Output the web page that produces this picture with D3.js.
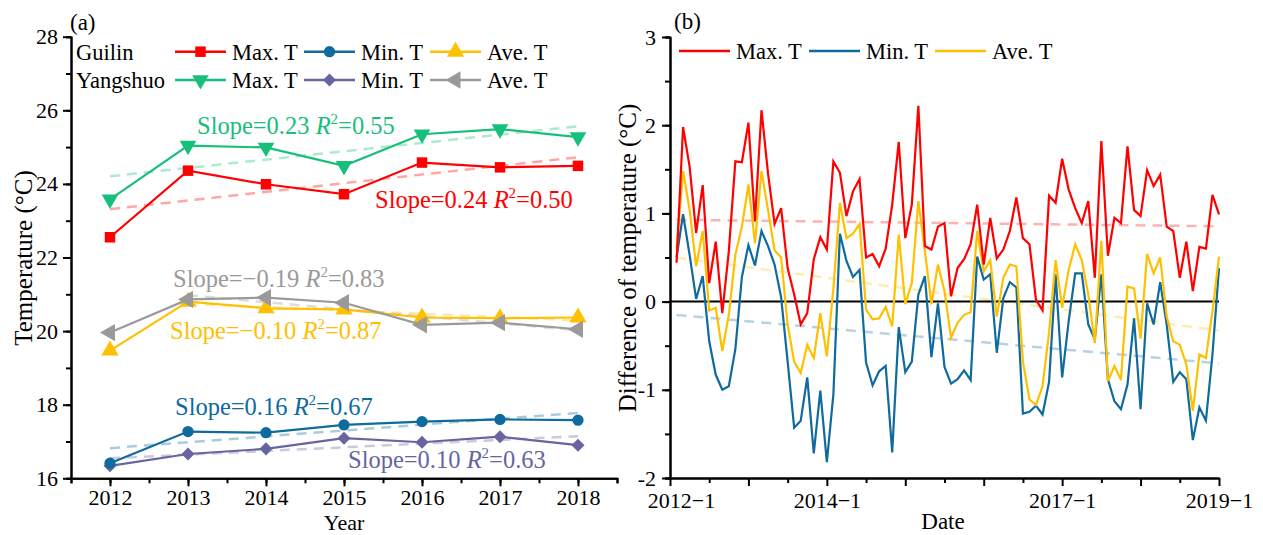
<!DOCTYPE html>
<html><head><meta charset="utf-8">
<script src="https://cdn.jsdelivr.net/npm/d3@7"></script>
<style>
html,body{margin:0;padding:0;background:#fff;}
svg text{font-family:"Liberation Serif","Times New Roman",serif;}
</style></head>
<body>
<svg id="chart" width="1263" height="535"></svg>
<script>
// ---------- Panel (a) data ----------
const years = [2012, 2013, 2014, 2015, 2016, 2017, 2018];
const guilinMax = [22.55, 24.36, 23.99, 23.72, 24.58, 24.45, 24.49];
const guilinMin = [16.41, 17.27, 17.24, 17.45, 17.54, 17.60, 17.58];
const guilinAve = [19.47, 20.80, 20.62, 20.59, 20.37, 20.35, 20.37];
const yangMax = [23.58, 25.04, 24.99, 24.49, 25.35, 25.49, 25.27];
const yangMin = [16.34, 16.66, 16.80, 17.09, 16.98, 17.13, 16.90];
const yangAve = [19.96, 20.86, 20.91, 20.77, 20.17, 20.23, 20.05];
const yTicksA = [16, 18, 20, 22, 24, 26, 28];

// ---------- Panel (b) data (monthly difference, Guilin - Yangshuo) ----------
const maxT = [0.44,1.98,1.53,0.78,1.32,0.21,0.68,-0.13,0.57,1.59,1.58,2.03,0.91,2.17,1.45,0.88,1.06,0.38,0.08,-0.26,-0.13,0.48,0.73,0.59,1.59,1.46,0.97,1.25,
  1.39,0.50,0.54,0.40,0.60,1.10,1.81,0.72,1.10,2.22,0.63,0.59,0.85,0.89,0.06,0.38,0.48,0.65,1.10,0.42,0.95,0.49,0.59,0.80,1.18,0.72,0.65,0.02,
  -0.10,1.20,1.12,1.62,1.27,1.06,0.89,1.14,0.27,1.82,0.52,0.95,0.89,1.76,1.04,0.97,1.49,1.31,1.44,0.85,0.80,0.27,0.68,0.12,0.62,0.60,1.21,0.99];
const minT = [0.50,0.99,0.53,0.03,0.29,-0.45,-0.83,-1.00,-0.96,-0.54,0.28,0.64,0.41,0.80,0.63,0.42,0.05,-0.68,-1.43,-1.35,-0.86,-1.72,-1.01,-1.82,-1.05,0.77,0.46,0.28,
  0.36,-0.69,-0.95,-0.79,-0.73,-1.71,-0.29,-0.80,-0.68,0.08,0.29,-0.63,-0.02,-0.74,-0.93,-0.88,-0.78,-0.89,0.51,0.25,0.31,-0.58,0.04,0.22,0.16,-1.27,-1.25,-1.18,
  -1.28,-0.91,0.31,-0.86,-0.22,0.32,0.32,-0.26,-0.43,0.31,-0.88,-1.13,-1.22,-0.94,-0.19,-1.22,-0.02,-0.26,0.22,-0.26,-0.91,-0.80,-0.88,-1.57,-1.20,-1.35,-0.60,0.38];
const aveT = [0.60,1.48,1.04,0.40,0.80,-0.10,-0.07,-0.56,-0.15,0.53,0.85,1.33,0.66,1.48,1.04,0.58,0.50,-0.26,-0.68,-0.81,-0.49,-0.64,-0.13,-0.62,0.15,1.12,0.72,0.77,
  0.88,-0.09,-0.20,-0.19,-0.06,-0.28,0.76,-0.03,0.21,1.14,0.57,-0.03,0.42,0.12,-0.41,-0.24,-0.15,-0.12,0.80,0.34,0.47,-0.17,0.27,0.42,0.40,-0.68,-1.11,-1.17,
  -0.96,-0.35,0.47,-0.07,0.36,0.65,0.47,0.08,-0.47,0.69,-0.90,-0.73,-0.89,0.17,0.15,-0.42,0.54,0.32,0.50,-0.17,-0.45,-0.49,-0.71,-1.24,-0.60,-0.64,-0.11,0.51];
const dateTickLabels = {0: "2012\u22121", 24: "2014\u22121", 60: "2017\u22121", 84: "2019\u22121"};
const yTicksB = [-2, -1, 0, 1, 2, 3];

// ---------- colours ----------
const C = {red:"#ff0000", green:"#17c07a", blue:"#0f6a9e", yellow:"#ffc000", gray:"#9a9a9a", purple:"#67649f"};
const FONT = '"Liberation Serif","Times New Roman",serif';

const svg = d3.select("#chart");

function linfit(xs, ys) {
  const n = xs.length, mx = d3.mean(xs), my = d3.mean(ys);
  let sxy = 0, sxx = 0;
  for (let i = 0; i < n; i++) { sxy += (xs[i]-mx)*(ys[i]-my); sxx += (xs[i]-mx)*(xs[i]-mx); }
  const b = sxy/sxx; return {b, a: my - b*mx};
}

function styleAxis(g, fs) {
  g.select(".domain").attr("stroke", "#000").attr("stroke-width", 2);
  g.selectAll(".tick line").attr("stroke", "#000").attr("stroke-width", 2);
  g.selectAll(".tick text").attr("font-family", FONT).attr("font-size", fs).attr("fill", "#000");
}

// ================= Panel (a) =================
const xa = d3.scaleLinear().domain([2011.5, 2018.5]).range([71, 617]);
const ya = d3.scaleLinear().domain([16, 28]).range([478.3, 36.7]);

svg.append("g").attr("transform", "translate(0,478.3)")
  .call(d3.axisBottom(xa).tickValues(d3.range(2011.5, 2018.6, 0.5)).tickSize(5).tickFormat(""))
  .call(g => styleAxis(g, 22));
svg.append("g").attr("transform", "translate(0,478.3)")
  .call(d3.axisBottom(xa).tickValues(years).tickSize(8).tickSizeOuter(0).tickPadding(3).tickFormat(d3.format("d")))
  .call(g => styleAxis(g, 22));
svg.append("g").attr("transform", "translate(71,0)")
  .call(d3.axisLeft(ya).tickValues(d3.range(16, 28.1, 1)).tickSize(5).tickFormat(""))
  .call(g => styleAxis(g, 22));
svg.append("g").attr("transform", "translate(71,0)")
  .call(d3.axisLeft(ya).tickValues(yTicksA).tickSize(8).tickSizeOuter(0).tickPadding(5).tickFormat(d3.format("d")))
  .call(g => styleAxis(g, 22));

const seriesA = [
  {name:"Guilin Max", vals:guilinMax, color:C.red, sym:d3.symbolSquare, size:110, rot:0, fitFrom:0},
  {name:"Yangshuo Max", vals:yangMax, color:C.green, sym:d3.symbolTriangle, size:120, rot:180, fitFrom:0},
  {name:"Guilin Min", vals:guilinMin, color:C.blue, sym:d3.symbolCircle, size:100, rot:0, fitFrom:0},
  {name:"Yangshuo Min", vals:yangMin, color:C.purple, sym:d3.symbolSquare, size:85, rot:45, fitFrom:0},
  {name:"Guilin Ave", vals:guilinAve, color:C.yellow, sym:d3.symbolTriangle, size:130, rot:0, fitFrom:1},
  {name:"Yangshuo Ave", vals:yangAve, color:C.gray, sym:d3.symbolTriangle, size:130, rot:-90, fitFrom:1}
];

seriesA.forEach(s => {
  const xs = years.slice(s.fitFrom), ys = s.vals.slice(s.fitFrom);
  const f = linfit(xs, ys);
  const x0 = xs[0], x1 = xs[xs.length-1];
  svg.append("line")
    .attr("x1", xa(x0)).attr("y1", ya(f.a + f.b*x0))
    .attr("x2", xa(x1)).attr("y2", ya(f.a + f.b*x1))
    .attr("stroke", s.color).attr("stroke-opacity", 0.35)
    .attr("stroke-width", 2.5).attr("stroke-dasharray", "10,7");
});

const lineA = d3.line().x((d, i) => xa(years[i])).y(d => ya(d));
[seriesA[3], seriesA[2], seriesA[4], seriesA[5], seriesA[0], seriesA[1]].forEach(s => {
  svg.append("path").attr("d", lineA(s.vals)).attr("fill", "none")
    .attr("stroke", s.color).attr("stroke-width", 2.2);
  svg.selectAll(null).data(s.vals).enter().append("path")
    .attr("d", d3.symbol().type(s.sym).size(s.size))
    .attr("transform", (d, i) => `translate(${xa(years[i])},${ya(d)}) rotate(${s.rot})`)
    .attr("fill", s.color);
});

function legendItem(x, y, color, sym, size, rot, label) {
  svg.append("line").attr("x1", x).attr("x2", x + 51).attr("y1", y).attr("y2", y)
    .attr("stroke", color).attr("stroke-width", 2.5);
  svg.append("path").attr("d", d3.symbol().type(sym).size(size)())
    .attr("transform", `translate(${x + 25.5},${y}) rotate(${rot})`).attr("fill", color);
  svg.append("text").attr("x", x + 57).attr("y", y + 8).attr("font-size", 22.5).text(label);
}
svg.append("text").attr("x", 76).attr("y", 60).attr("font-size", 22.5).text("Guilin");
svg.append("text").attr("x", 76).attr("y", 88).attr("font-size", 22.5).text("Yangshuo");
legendItem(175, 51.7, C.red, d3.symbolSquare, 110, 0, "Max. T");
legendItem(304, 51.7, C.blue, d3.symbolCircle, 100, 0, "Min. T");
legendItem(430, 51.7, C.yellow, d3.symbolTriangle, 130, 0, "Ave. T");
legendItem(175, 80, C.green, d3.symbolTriangle, 120, 180, "Max. T");
legendItem(304, 80, C.purple, d3.symbolSquare, 85, 45, "Min. T");
legendItem(430, 80, C.gray, d3.symbolTriangle, 130, -90, "Ave. T");

function slopeText(x, y, color, slope, r2) {
  const t = svg.append("text").attr("x", x).attr("y", y).attr("font-size", 24.5).attr("fill", color);
  t.append("tspan").text("Slope=" + slope + " ");
  t.append("tspan").attr("font-style", "italic").text("R");
  t.append("tspan").attr("font-size", 15).attr("dy", -10).text("2");
  t.append("tspan").attr("dy", 10).text("=" + r2);
}
slopeText(197, 134, C.green, "0.23", "0.55");
slopeText(375, 208, C.red, "0.24", "0.50");
slopeText(173, 287, C.gray, "\u22120.19", "0.83");
slopeText(170, 339, C.yellow, "\u22120.10", "0.87");
slopeText(175, 415, C.blue, "0.16", "0.67");
slopeText(348, 468, C.purple, "0.10", "0.63");

svg.append("text").attr("x", 70).attr("y", 30).attr("font-size", 23).text("(a)");
svg.append("text").attr("x", 344).attr("y", 530).attr("text-anchor", "middle").attr("font-size", 22).text("Year");
svg.append("text").attr("transform", "translate(32,258) rotate(-90)").attr("text-anchor", "middle")
  .attr("font-size", 25).text("Temperature (\u00B0C)");

// ================= Panel (b) =================
const xb = d3.scaleLinear().domain([0, 84]).range([670, 1219]);
const yb = d3.scaleLinear().domain([-2, 3]).range([478, 37]);

svg.append("g").attr("transform", "translate(0,478)")
  .call(d3.axisBottom(xb).tickValues(d3.range(6, 84, 12)).tickSize(5).tickSizeOuter(0).tickFormat(""))
  .call(g => styleAxis(g, 22));
svg.append("g").attr("transform", "translate(0,478)")
  .call(d3.axisBottom(xb).tickValues(d3.range(0, 85, 12)).tickSize(8).tickSizeOuter(0).tickPadding(6)
    .tickFormat(d => dateTickLabels[d] || ""))
  .call(g => styleAxis(g, 22))
  .call(g => g.selectAll(".tick text").filter(d => d === 0).attr("dx", 11));
svg.append("g").attr("transform", "translate(670,0)")
  .call(d3.axisLeft(yb).tickValues(d3.range(-2, 3.01, 0.5)).tickSize(5).tickFormat(""))
  .call(g => styleAxis(g, 22));
svg.append("g").attr("transform", "translate(670,0)")
  .call(d3.axisLeft(yb).tickValues(yTicksB).tickSize(8).tickSizeOuter(0).tickPadding(6).tickFormat(d => String(d)))
  .call(g => styleAxis(g, 22));

const seriesB = [
  {vals:minT, color:C.blue},
  {vals:aveT, color:C.yellow},
  {vals:maxT, color:C.red}
];
seriesB.forEach(s => {
  const xs = s.vals.map((d, i) => i + 1);
  const f = linfit(xs, s.vals);
  svg.append("line")
    .attr("x1", xb(1)).attr("y1", yb(f.a + f.b*1))
    .attr("x2", xb(84)).attr("y2", yb(f.a + f.b*84))
    .attr("stroke", s.color).attr("stroke-opacity", 0.3)
    .attr("stroke-width", 2.5).attr("stroke-dasharray", "10,7");
});
svg.append("line").attr("x1", xb(0)).attr("x2", xb(84)).attr("y1", yb(0)).attr("y2", yb(0))
  .attr("stroke", "#000").attr("stroke-width", 2);
const lineB = d3.line().x((d, i) => xb(i + 1)).y(d => yb(d));
seriesB.forEach(s => {
  svg.append("path").attr("d", lineB(s.vals)).attr("fill", "none")
    .attr("stroke", s.color).attr("stroke-width", 2.2).attr("stroke-linejoin", "miter");
});

[["Max. T", C.red, 679], ["Min. T", C.blue, 809], ["Ave. T", C.yellow, 935]].forEach(([lab, col, x]) => {
  svg.append("line").attr("x1", x).attr("x2", x + 51).attr("y1", 51).attr("y2", 51)
    .attr("stroke", col).attr("stroke-width", 2.5);
  svg.append("text").attr("x", x + 57).attr("y", 59).attr("font-size", 22.5).text(lab);
});

svg.append("text").attr("x", 674).attr("y", 29).attr("font-size", 23).text("(b)");
svg.append("text").attr("x", 943).attr("y", 529).attr("text-anchor", "middle").attr("font-size", 23).text("Date");
svg.append("text").attr("transform", "translate(636,258) rotate(-90)").attr("text-anchor", "middle")
  .attr("font-size", 25).text("Difference of temperature (\u00B0C)");
</script>
</body></html>
